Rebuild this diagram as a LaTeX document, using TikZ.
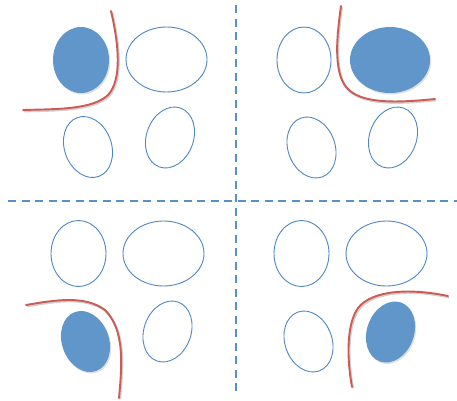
\documentclass[tikz,border=0pt]{standalone}
\usetikzlibrary{shapes.geometric,shadows}
\definecolor{ellblue}{HTML}{4F86C6}
\definecolor{fillblue}{HTML}{6096CA}
\definecolor{linered}{HTML}{CC5A55}
\definecolor{dashblue}{HTML}{5B8FC9}
\tikzset{
  oval/.style={ellipse, draw=ellblue, line width=0.9pt, inner sep=0pt, fill=white},
  rnd/.style={oval, minimum width=55pt, minimum height=66pt},
  wide/.style={oval, minimum width=81pt, minimum height=65pt},
  tilt/.style={oval, minimum width=47pt, minimum height=62.6pt},
  solid oval/.style={draw=none, fill=fillblue, drop shadow={opacity=0.25, shadow xshift=1.2pt, shadow yshift=-1.5pt}},
  sepline/.style={draw=linered, line width=1.9pt, line cap=round,
    preaction={draw=black, draw opacity=0.18, line width=2.2pt, transform canvas={shift={(1pt,-1.3pt)}}}},
  divider/.style={draw=dashblue, line width=2.7pt, dash pattern=on 8pt off 5.5pt}
}
\begin{document}
\begin{tikzpicture}[x=1pt,y=-1pt]
\useasboundingbox (0,0) rectangle (457,400);
% dividers
\coordinate (hl) at (8,201);
\coordinate (hr) at (457,201);
\coordinate (vt) at (236,5);
\coordinate (vb) at (236,392);
\draw[divider] (hl) -- (hr);
\draw[divider] (vt) -- (vb);
% top-left quadrant
\node[rnd, solid oval, minimum width=56pt] (tla) at (81,60) {};
\node[wide] (tlb) at (166.5,59.5) {};
\node[tilt, rotate=20] (tlc) at (88,147) {};
\node[tilt, rotate=-20] (tld) at (170,137.5) {};
\coordinate (tls) at (111,11);
\coordinate (tle) at (23,110);
\path[sepline] (tls) .. controls (119,45) and (122,80) .. (108,95)
  .. controls (92,110) and (55,109) .. (tle);
% top-right quadrant
\node[rnd, minimum width=54pt] (tra) at (304,60) {};
\node[wide, solid oval, minimum width=80pt, minimum height=66pt] (trb) at (390,60) {};
\node[tilt, rotate=20] (trc) at (311.5,147.5) {};
\node[tilt, rotate=-20] (trd) at (393,137.5) {};
\coordinate (trs) at (341,6);
\coordinate (tre) at (435,99);
\path[sepline] (trs) .. controls (337,35) and (333,70) .. (346,87)
  .. controls (360,104) and (395,103) .. (tre);
% bottom-left quadrant
\node[rnd] (bla) at (78.5,253.5) {};
\node[wide] (blb) at (163.5,253.5) {};
\node[tilt, solid oval, rotate=20] (blc) at (85.5,341.5) {};
\node[tilt, rotate=-20] (bld) at (167.5,331.5) {};
\coordinate (bls) at (26,305);
\coordinate (ble) at (119,398);
\path[sepline] (bls) .. controls (55,300) and (85,295) .. (105,310)
  .. controls (125,330) and (122,365) .. (ble);
% bottom-right quadrant
\node[rnd] (bra) at (301.5,253.5) {};
\node[wide] (brb) at (386.5,253.5) {};
\node[tilt, rotate=20] (brc) at (308.5,341.5) {};
\node[tilt, solid oval, rotate=-20] (brd) at (390.5,332) {};
\coordinate (brs) at (352,387);
\coordinate (bre) at (448,296);
\path[sepline] (brs) .. controls (347,360) and (346,325) .. (358,308)
  .. controls (372,290) and (410,288) .. (bre);
\end{tikzpicture}
\end{document}
